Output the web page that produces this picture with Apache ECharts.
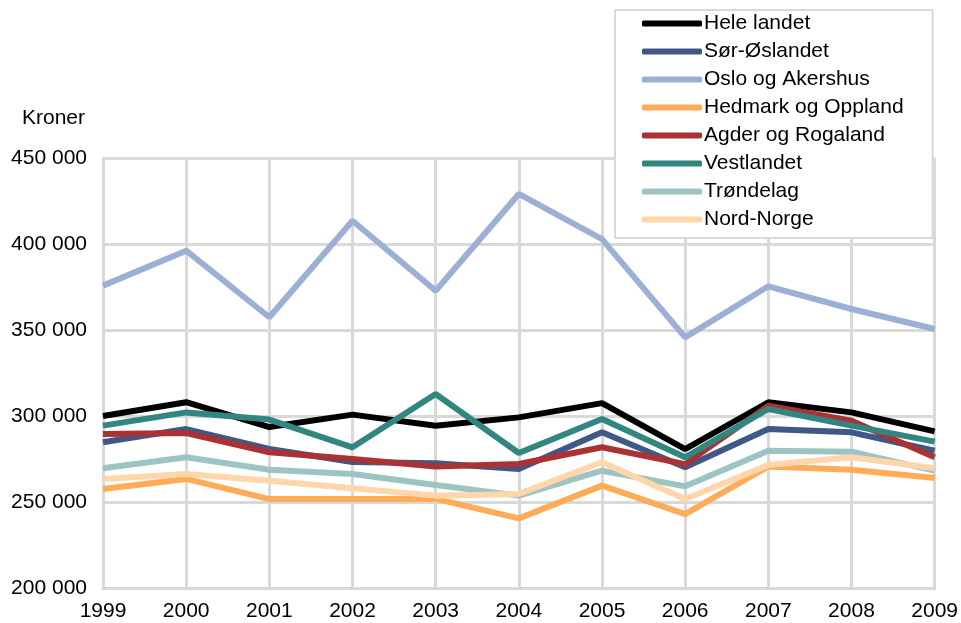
<!DOCTYPE html>
<html>
<head>
<meta charset="utf-8">
<script src="https://cdn.jsdelivr.net/npm/echarts@6/dist/echarts.min.js"></script>
<style>
  html, body { margin: 0; padding: 0; background: #fff; }
  #chart { width: 961px; height: 623px; }
</style>
</head>
<body>
<div id="chart"></div>
<script>
const years = ['1999', '2000', '2001', '2002', '2003', '2004', '2005', '2006', '2007', '2008', '2009']

const heleLandet = [300000, 308000, 293600, 300800, 294300, 299200, 307500, 280800, 308000, 302100, 291100]
const sorOstlandet = [284700, 292400, 280800, 273300, 272500, 269200, 290500, 270200, 292400, 290500, 279800]
const osloAkershus = [375800, 396100, 357400, 413500, 372800, 429100, 402800, 345700, 375400, 362200, 350600]
const hedmarkOppland = [257600, 263400, 251700, 251700, 251800, 240500, 259500, 243000, 270700, 268800, 264000]
const agderRogaland = [289500, 290100, 278900, 275000, 270700, 272100, 281800, 272000, 306000, 297300, 276000]
const vestlandet = [294400, 302100, 297900, 281800, 312800, 278500, 298300, 276000, 304100, 294400, 285100]
const trondelag = [269600, 276000, 268800, 266300, 259900, 253700, 268200, 259100, 279800, 279200, 268200]
const nordNorge = [263400, 266300, 262400, 258000, 253700, 254700, 273100, 251700, 271500, 276000, 269600]

const seriesDefs = [
  { name: 'Hele landet', data: heleLandet, color: '#000000' },
  { name: 'Sør-Øslandet', data: sorOstlandet, color: '#3f5886' },
  { name: 'Oslo og Akershus', data: osloAkershus, color: '#9cb0d6' },
  { name: 'Hedmark og Oppland', data: hedmarkOppland, color: '#ffab58' },
  { name: 'Agder og Rogaland', data: agderRogaland, color: '#ab3234' },
  { name: 'Vestlandet', data: vestlandet, color: '#318680' },
  { name: 'Trøndelag', data: trondelag, color: '#9cc4c2' },
  { name: 'Nord-Norge', data: nordNorge, color: '#ffd5aa' }
]

const font = 'Liberation Sans, Arial, sans-serif'
const fontSize = 21
const gridColor = '#d9d9d9'

const chart = echarts.init(document.getElementById('chart'))

const option = {
  animation: false,
  textStyle: { fontFamily: font },
  title: {
    text: 'Kroner',
    left: 17,
    top: 103,
    textStyle: { fontFamily: font, fontSize: fontSize, fontWeight: 'normal', color: '#000' }
  },
  legend: {
    orient: 'vertical',
    left: 615,
    top: 10,
    padding: [3, 29, 8, 27],
    itemGap: 7,
    itemWidth: 60,
    itemHeight: 6,
    icon: 'roundRect',
    backgroundColor: '#fff',
    borderColor: gridColor,
    borderWidth: 2,
    borderRadius: 0,
    textStyle: { fontFamily: font, fontSize: fontSize, color: '#000', padding: [0, 0, 0, -3] },
    data: seriesDefs.map(s => s.name)
  },
  grid: {
    left: 103,
    right: 24,
    top: 158,
    bottom: 35
  },
  xAxis: {
    type: 'category',
    data: years,
    boundaryGap: false,
    axisLine: { show: true, lineStyle: { color: gridColor, width: 3 } },
    axisTick: { show: false },
    axisLabel: { color: '#000', fontSize: fontSize, fontFamily: font, margin: 13 },
    splitLine: { show: true, lineStyle: { color: gridColor, width: 3 } }
  },
  yAxis: {
    type: 'value',
    min: 200000,
    max: 450000,
    interval: 50000,
    axisLine: { show: true, lineStyle: { color: gridColor, width: 3 } },
    axisTick: { show: false },
    axisLabel: {
      color: '#000',
      fontSize: fontSize,
      fontFamily: font,
      margin: 16,
      formatter: v => String(v).replace(/\B(?=(\d{3})+(?!\d))/g, ' ')
    },
    splitLine: { show: true, lineStyle: { color: gridColor, width: 3 } }
  },
  series: seriesDefs.map(s => ({
    name: s.name,
    type: 'line',
    data: s.data,
    showSymbol: false,
    symbol: 'none',
    color: s.color,
    lineStyle: { color: s.color, width: 6 },
    emphasis: { disabled: true }
  }))
}

chart.setOption(option)
</script>
</body>
</html>
